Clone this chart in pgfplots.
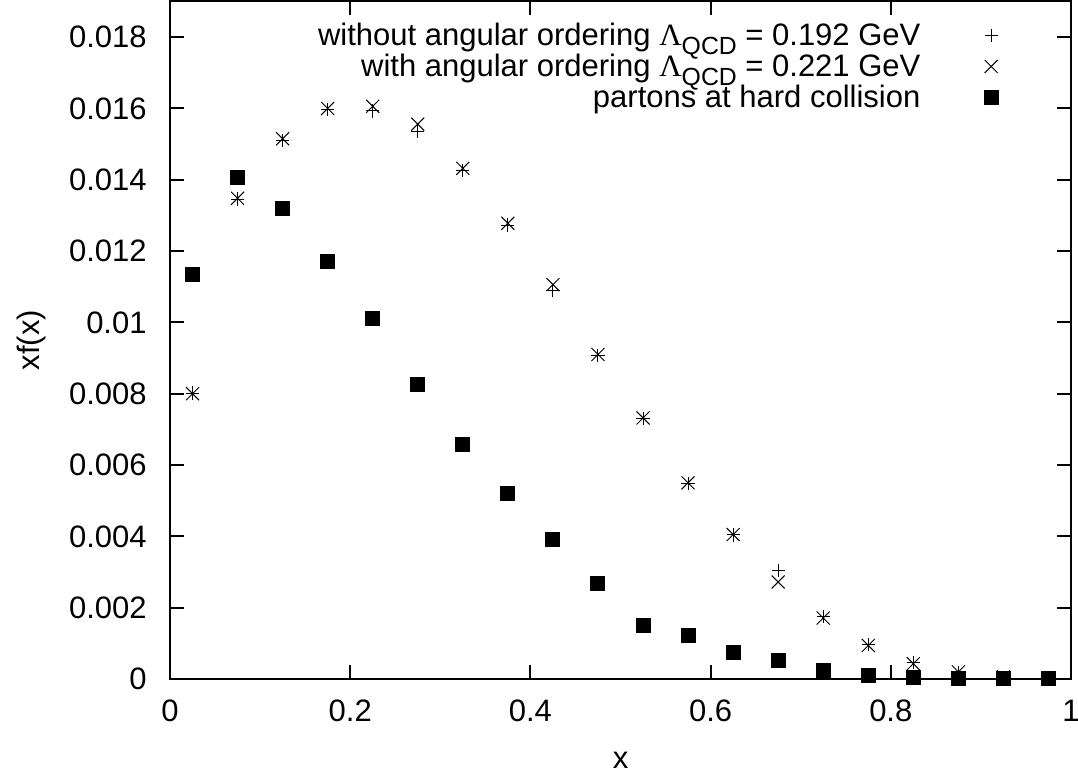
\documentclass[border=0pt]{standalone}
\usepackage{fontspec}
\setmainfont{Liberation Sans}
\newfontfamily\greekserif{Liberation Serif}
\usepackage{pgfplots}
\pgfplotsset{compat=1.18}
\newcommand{\lfont}{\fontsize{15.5}{16.5}\selectfont}
\newcommand{\LQCD}{{\greekserif Λ}\raisebox{-4.3pt}{\fontsize{12.4}{13}\selectfont QCD}}
\begin{document}
\begin{tikzpicture}
\begin{axis}[
  scale only axis, width=450.5pt, height=338.75pt,
  xmin=0, xmax=1, ymin=0, ymax=0.019,
  clip=false,
  xtick={0,0.2,0.4,0.6,0.8,1},
  xticklabels={0,0.2,0.4,0.6,0.8,1},
  ytick={0,0.002,0.004,0.006,0.008,0.01,0.012,0.014,0.016,0.018},
  yticklabels={0,0.002,0.004,0.006,0.008,0.01,0.012,0.014,0.016,0.018},
  tick align=inside, major tick length=7pt, minor tick num=0,
  axis line style={line width=1pt},
  every tick/.style={black, line width=1pt},
  xticklabel style={font=\lfont, anchor=base, inner sep=0pt, yshift=-21.5pt},
  yticklabel style={font=\lfont, anchor=east, inner sep=0pt, xshift=-11.5pt},
  every axis x label/.style={at={(axis description cs:0.5,-0.1314)}, anchor=base, font=\lfont},
  every axis y label/.style={at={(axis description cs:-0.1443,0.5)}, rotate=90, anchor=base, font=\lfont},
  xlabel={x}, ylabel={xf(x)},
  legend style={draw=none, fill=none, at={(axis description cs:0.9192,0.96679)}, anchor=north east,
    inner sep=0pt, outer sep=0pt, row sep=0pt, font=\lfont,
    nodes={inner sep=0pt, text height=10.75pt, text depth=4.75pt},
    /tikz/every odd column/.append style={column sep=31.9pt}},
  legend cell align=right, legend plot pos=right,
  legend image code/.code={\draw[#1] plot coordinates {(0pt,2pt)};},
]
\addplot[only marks, mark=+, mark size=3.3pt, mark options={line width=0.5pt, black}] coordinates {
(0.025,0.00802) (0.075,0.01346) (0.125,0.01510) (0.175,0.01598) (0.225,0.01593)
(0.275,0.01535) (0.325,0.01427) (0.375,0.01273) (0.425,0.01090) (0.475,0.00908)
(0.525,0.00731) (0.575,0.00549) (0.625,0.00404) (0.675,0.00304) (0.725,0.00176)
(0.775,0.00096) (0.825,0.00047) (0.875,0.00018) (0.925,0.00005) (0.975,0.00001)};
\addlegendentry{without angular ordering \LQCD{} = 0.192 GeV}
\addplot[only marks, mark=x, mark size=4.6pt, mark options={line width=0.5pt, black}] coordinates {
(0.025,0.00800) (0.075,0.01348) (0.125,0.01515) (0.175,0.01600) (0.225,0.01606)
(0.275,0.01556) (0.325,0.01432) (0.375,0.01278) (0.425,0.01106) (0.475,0.00910)
(0.525,0.00732) (0.575,0.00550) (0.625,0.00405) (0.675,0.00272) (0.725,0.00171)
(0.775,0.00094) (0.825,0.00043) (0.875,0.00020) (0.925,0.00006) (0.975,0.00001)};
\addlegendentry{with angular ordering \LQCD{} = 0.221 GeV}
\addplot[only marks, mark=square*, mark size=3.5pt, mark options={line width=0.5pt, black, fill=black}] coordinates {
(0.025,0.01133) (0.075,0.01407) (0.125,0.01320) (0.175,0.01171) (0.225,0.01012)
(0.275,0.00827) (0.325,0.00658) (0.375,0.00520) (0.425,0.00390) (0.475,0.00268)
(0.525,0.00150) (0.575,0.00121) (0.625,0.00075) (0.675,0.00052) (0.725,0.00024)
(0.775,0.00010) (0.825,0.00003) (0.875,0.00001) (0.925,0) (0.975,0)};
\addlegendentry{partons at hard collision}
\coordinate (bbsw) at (axis description cs:-0.18868,-0.13579);
\coordinate (bbne) at (axis description cs:1.00777,1.0022);
\end{axis}
\pgfresetboundingbox
\path[use as bounding box] (bbsw) rectangle (bbne);
\end{tikzpicture}
\end{document}
